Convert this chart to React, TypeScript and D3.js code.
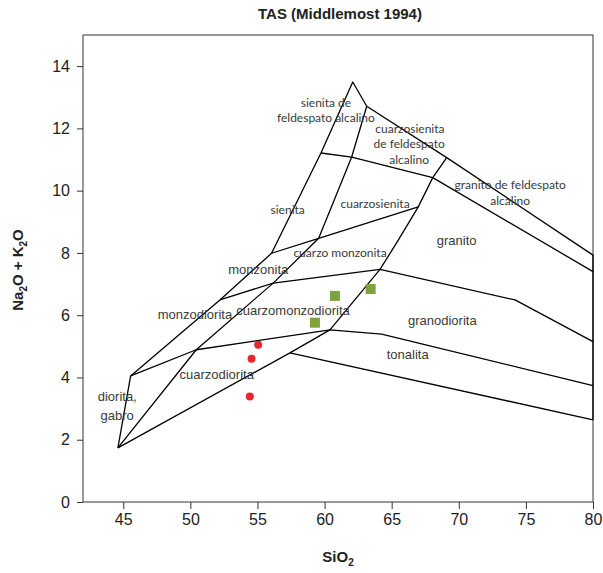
import * as d3 from 'd3';
import { useEffect, useRef } from 'react';

// TAS plutonic diagram (Middlemost 1994), field boundaries in [SiO2, Na2O+K2O]
const xTicks = [45, 50, 55, 60, 65, 70, 75, 80];
const yTicks = [0, 2, 4, 6, 8, 10, 12, 14];

const outerBoundary = [
  [44.6, 1.74], [45.55, 4.05], [52.2, 6.49], [56.05, 7.99], [59.73, 11.21],
  [62.1, 13.49], [63.14, 12.71], [69.1, 11.06], [80, 7.93], [80, 2.64],
];
const lowerBoundary = [
  [44.6, 1.74], [57.42, 4.79], [60.4, 5.53], [64.13, 7.47], [65.49, 8.41],
  [66.98, 9.48], [68.06, 10.42], [69.1, 11.06],
];
const quartzLine = [
  [44.6, 1.74], [50.44, 4.89], [56.17, 7.03], [59.56, 8.47], [62.02, 11.08], [63.14, 12.71],
];
const dioriteLine = [[45.55, 4.05], [50.44, 4.89], [60.4, 5.53], [64.25, 5.39], [80, 3.74]];
const monzoniteLine = [[52.2, 6.49], [56.17, 7.03], [64.13, 7.47], [74.19, 6.49], [80, 5.15]];
const syeniteLine = [[56.05, 7.99], [59.56, 8.47], [66.98, 9.48]];
const alkaliLine = [[59.73, 11.21], [62.02, 11.08], [68.06, 10.42], [80, 7.4]];
const tonaliteLine = [[57.42, 4.79], [80, 2.64]];

const boundaries = [
  outerBoundary, lowerBoundary, quartzLine, dioriteLine,
  monzoniteLine, syeniteLine, alkaliLine, tonaliteLine,
];

// samples
const redSamples = [[55.05, 5.05], [54.56, 4.6], [54.43, 3.39]];
const greenSamples = [[60.77, 6.62], [59.28, 5.76], [63.43, 6.84]];

// field names: [text, SiO2, alkali, calibri-like?]
const fieldLabels: [string, number, number, boolean][] = [
  ['sienita de', 60.1, 12.81, true],
  ['feldespato alcalino', 60.1, 12.33, true],
  ['cuarzosienita', 66.36, 11.99, true],
  ['de feldespato', 66.3, 11.49, true],
  ['alcalino', 66.3, 11.0, true],
  ['granito de feldespato', 73.83, 10.18, true],
  ['alcalino', 73.83, 9.67, true],
  ['sienita', 57.25, 9.38, true],
  ['cuarzosienita', 63.76, 9.59, true],
  ['cuarzo monzonita', 61.15, 8.0, true],
  ['granito', 69.84, 8.41, false],
  ['monzonita', 55.06, 7.48, false],
  ['monzodiorita', 50.34, 6.01, false],
  ['cuarzomonzodiorita', 57.65, 6.15, false],
  ['granodiorita', 68.77, 5.83, false],
  ['tonalita', 66.19, 4.73, false],
  ['cuarzodiorita', 51.96, 4.09, false],
  ['diorita,', 44.55, 3.39, false],
  ['gabro', 44.55, 2.77, false],
];

const App = () => {
  const svgRef = useRef(null);

  useEffect(() => {
    const svg = d3.select(svgRef.current);
    svg.selectAll('*').remove();

    const left = 83;
    const right = 593;
    const top = 35;
    const bottom = 502;
    const x = d3.scaleLinear().domain([42, 80]).range([left, right]);
    const y = d3.scaleLinear().domain([0, 15]).range([bottom, top]);

    // title
    svg
      .append('text')
      .attr('x', 340)
      .attr('y', 19)
      .attr('text-anchor', 'middle')
      .style('font', 'bold 15px "Liberation Sans", Arial, sans-serif')
      .attr('fill', '#222')
      .text('TAS (Middlemost 1994)');

    // frame
    svg
      .append('rect')
      .attr('x', left)
      .attr('y', top)
      .attr('width', right - left)
      .attr('height', bottom - top)
      .attr('fill', 'none')
      .attr('stroke', '#333')
      .attr('stroke-width', 1);

    const xAxis = svg
      .append('g')
      .attr('transform', `translate(0,${bottom})`)
      .call(d3.axisBottom(x).tickValues(xTicks).tickSize(7).tickPadding(5));
    const yAxis = svg
      .append('g')
      .attr('transform', `translate(${left},0)`)
      .call(d3.axisLeft(y).tickValues(yTicks).tickSize(6).tickPadding(7));
    [xAxis, yAxis].forEach((g) => {
      g.select('.domain').remove();
      g.selectAll('line').attr('stroke', '#333');
      g.selectAll('text')
        .attr('fill', '#222')
        .style('font', '16px "Liberation Sans", Arial, sans-serif');
    });

    // axis titles
    const xt = svg
      .append('text')
      .attr('x', 338)
      .attr('y', 562)
      .attr('text-anchor', 'middle')
      .style('font', 'bold 15px "Liberation Sans", Arial, sans-serif')
      .attr('fill', '#222');
    xt.append('tspan').text('SiO');
    xt.append('tspan').attr('dy', 4).style('font-size', '10px').text('2');

    const yt = svg
      .append('text')
      .attr('transform', 'translate(23,270) rotate(-90)')
      .attr('text-anchor', 'middle')
      .style('font', 'bold 15px "Liberation Sans", Arial, sans-serif')
      .attr('fill', '#222');
    yt.append('tspan').text('Na');
    yt.append('tspan').attr('dy', 4).style('font-size', '10px').text('2');
    yt.append('tspan').attr('dy', -4).text('O + K');
    yt.append('tspan').attr('dy', 4).style('font-size', '10px').text('2');
    yt.append('tspan').attr('dy', -4).text('O');

    // field boundaries
    const line = d3
      .line()
      .x((d) => x(d[0]))
      .y((d) => y(d[1]));
    svg
      .append('g')
      .selectAll('path')
      .data(boundaries)
      .enter()
      .append('path')
      .attr('d', (d) => line(d))
      .attr('fill', 'none')
      .attr('stroke', '#000')
      .attr('stroke-width', 1.3)
      .attr('stroke-linejoin', 'round');

    // field names
    svg
      .append('g')
      .selectAll('text')
      .data(fieldLabels)
      .enter()
      .append('text')
      .attr('x', (d) => x(d[1]))
      .attr('y', (d) => y(d[2]))
      .attr('dy', '0.35em')
      .attr('text-anchor', 'middle')
      .attr('fill', '#3a3a3a')
      .style('font', (d) =>
        d[3] ? '12px Lato, "Noto Sans", sans-serif' : '13px "Liberation Sans", Arial, sans-serif'
      )
      .text((d) => d[0]);

    // samples
    svg
      .append('g')
      .selectAll('circle')
      .data(redSamples)
      .enter()
      .append('circle')
      .attr('cx', (d) => x(d[0]))
      .attr('cy', (d) => y(d[1]))
      .attr('r', 4)
      .attr('fill', '#e8272b');
    svg
      .append('g')
      .selectAll('rect')
      .data(greenSamples)
      .enter()
      .append('rect')
      .attr('x', (d) => x(d[0]) - 5)
      .attr('y', (d) => y(d[1]) - 5)
      .attr('width', 10)
      .attr('height', 10)
      .attr('fill', '#7fa23a');
  }, []);

  return (
    <div style={{ position: 'absolute', left: 0, top: 0 }}>
      <svg ref={svgRef} width={603} height={573} />
    </div>
  );
};

export default App;
